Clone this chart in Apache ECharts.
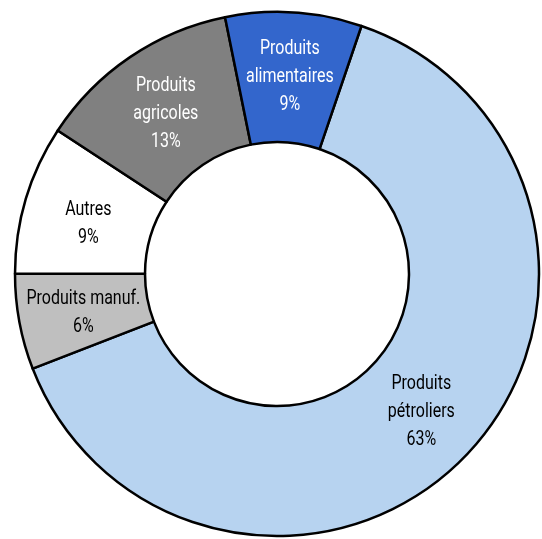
<!DOCTYPE html>
<html>
<head>
<meta charset="utf-8">
<script src="https://cdn.jsdelivr.net/npm/echarts@6/dist/echarts.min.js"></script>
<style>
html,body{margin:0;padding:0;background:#fff;}
#chart{width:542px;height:539px;}
</style>
</head>
<body>
<div id="chart"></div>
<script>
// Data (clockwise order, starting from the top-right)
const categories = ['Produits\npétroliers', 'Produits manuf.', 'Autres', 'Produits\nagricoles', 'Produits\nalimentaires'];
const values = [63.9, 5.9, 9.2, 12.6, 8.4];
const percentLabels = ['63%', '6%', '9%', '13%', '9%'];

// Styles
const colors = ['#b7d3f0', '#bfbfbf', '#ffffff', '#808080', '#3366cc'];
const textColors = ['#000000', '#000000', '#000000', '#ffffff', '#ffffff'];
const labelNudge = [[0, 0], [3, 2], [3, 7], [1, 6], [0, 3]];
const FONT = "Roboto, 'DejaVu Sans Condensed', sans-serif";
const TEXT_SCALE_X = 0.8;

const chart = echarts.init(document.getElementById('chart'), null, {renderer: 'canvas'});
chart.setOption({
  animation: false,
  backgroundColor: '#ffffff',
  series: [{
    type: 'pie',
    center: [277, 274],
    radius: [132, 262],
    startAngle: 71.2,
    clockwise: true,
    avoidLabelOverlap: false,
    label: {
      show: true,
      position: 'inside',
      fontFamily: FONT,
      fontSize: 20,
      lineHeight: 28,
      align: 'center',
      formatter: function (p) { return categories[p.dataIndex] + '\n' + percentLabels[p.dataIndex]; }
    },
    labelLine: {show: false},
    emphasis: {disabled: true},
    itemStyle: {borderColor: '#000000', borderWidth: 2.5},
    data: values.map(function (v, i) {
      return {
        value: v,
        name: categories[i],
        itemStyle: {color: colors[i]},
        label: {color: textColors[i], offset: labelNudge[i]}
      };
    })
  }]
});

// Condense the label text horizontally (narrow font look)
function condense() {
  const zr = chart.getZr();
  function walk(el) {
    if (el.getTextContent) {
      const t = el.getTextContent();
      if (t) { t.scaleX = TEXT_SCALE_X; t.originX = 0; t.originY = 0; t.markRedraw(); }
    }
    if (el.childrenRef) {
      el.childrenRef().forEach(walk);
    }
  }
  zr.storage.getRoots().forEach(walk);
  zr.refreshImmediately();
}
condense();
</script>
</body>
</html>
